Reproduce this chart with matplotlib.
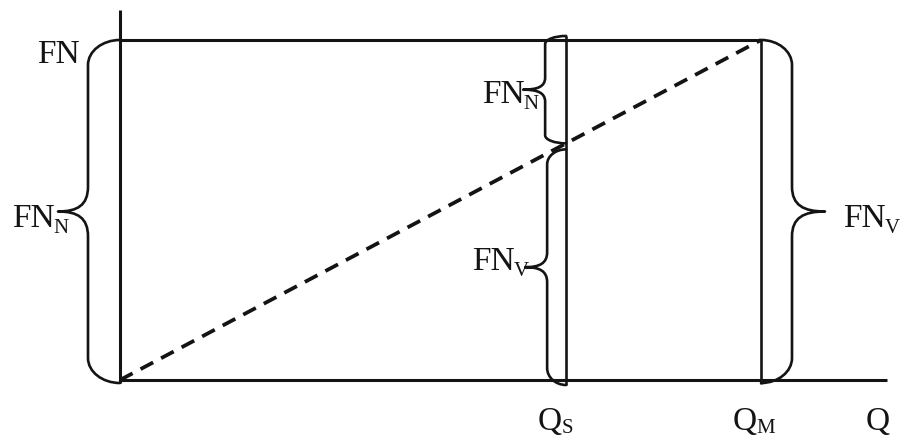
import matplotlib
matplotlib.use("Agg")
import matplotlib.pyplot as plt
from matplotlib.path import Path
from matplotlib.patches import PathPatch

plt.rcParams['font.family'] = ['Liberation Serif', 'DejaVu Serif']

# ---- diagram values (data units) ----
Q_S = 0.696          # quantity at point S
Q_M = 1.0            # quantity at point M
Q_MAX = 1.197        # end of Q axis
FN = 1.0             # total fixed cost level
Y_TOP = 1.088        # top of vertical axis

# labels: (main text, subscript)
label_FN = ("FN", "")
label_FNN = ("FN", "N")
label_FNV = ("FN", "V")
q_labels = [("Q", "S"), ("Q", "M"), ("Q", "")]

W, H = 921, 441
fig = plt.figure(figsize=(W / 100, H / 100), dpi=100)
ax = fig.add_axes([0, 0, 1, 1])
XL = (-0.1872, 1.2496)
YL = (-0.1794, 1.1176)
ax.set_xlim(*XL)
ax.set_ylim(*YL)
ax.axis('off')

px = (XL[1] - XL[0]) / W   # data per pixel (x)
py = (YL[1] - YL[0]) / H   # data per pixel (y)

ink = '#141414'
lw_axis = 2.2
lw_brace = 1.9

# axes and lines
ax.plot([0, 0], [0 - 3 * py, Y_TOP], color=ink, lw=lw_axis, solid_capstyle='butt')
ax.plot([0, Q_MAX], [0, 0], color=ink, lw=lw_axis, solid_capstyle='butt')
ax.plot([0, Q_M], [FN, FN], color=ink, lw=lw_axis, solid_capstyle='butt')
ax.plot([Q_S, Q_S], [-5 * py, FN + 4 * py], color=ink, lw=lw_brace, solid_capstyle='butt')
ax.plot([Q_M, Q_M], [-4 * py, FN], color=ink, lw=lw_brace, solid_capstyle='butt')
# dashed proportional line
ax.plot([0, Q_M], [0, FN], color=ink, lw=2.7, linestyle=(0, (3.8, 2.4)), dash_capstyle='butt')

K = 0.5523


def brace(xa, ylo, yhi, s, d1, d2, ryt, ryb, rt):
    d1x, d2x = d1 * px, d2 * px
    ryt, ryb, rt = ryt * py, ryb * py, rt * py
    xv = xa + s * d1x
    xt = xa + s * d2x
    yt = (ylo + yhi) / 2
    verts = [
        (xa, yhi),
        (xa + s * K * d1x, yhi), (xv, yhi - ryt + K * ryt), (xv, yhi - ryt),
        (xv, yt + rt),
        (xv, yt + rt * 0.25), (xv + s * (d2x - d1x) * 0.35, yt), (xt, yt),
        (xv + s * (d2x - d1x) * 0.35, yt), (xv, yt - rt * 0.25), (xv, yt - rt),
        (xv, ylo + ryb),
        (xv, ylo + ryb - K * ryb), (xa + s * K * d1x, ylo), (xa, ylo),
    ]
    codes = [Path.MOVETO,
             Path.CURVE4, Path.CURVE4, Path.CURVE4,
             Path.LINETO,
             Path.CURVE4, Path.CURVE4, Path.CURVE4,
             Path.CURVE4, Path.CURVE4, Path.CURVE4,
             Path.LINETO,
             Path.CURVE4, Path.CURVE4, Path.CURVE4]
    ax.add_patch(PathPatch(Path(verts, codes), fill=False, edgecolor=ink,
                           lw=lw_brace, capstyle='round', joinstyle='round'))


y_cross = FN * Q_S / Q_M
brace(0, -3 * py, FN, -1, 32, 62, 25, 25, 25)
brace(Q_M, -3 * py, FN, +1, 31, 64, 25, 25, 25)
brace(Q_S, y_cross, FN + 4 * py, -1, 21, 43, 8, 8, 12)
brace(Q_S, -5 * py, y_cross - 6 * py, -1, 19, 41, 15, 17, 15)


def P(xp, yp):
    return XL[0] + xp * px, YL[1] - yp * py


fs, fs_sub = 24, 15
renderer = fig.canvas.get_renderer()


def label(xp, yp, lab, drop=6):
    main, sub = lab
    t = ax.text(*P(xp, yp), main, fontsize=fs, ha='left', va='baseline', color=ink)
    if sub:
        bb = t.get_window_extent(renderer=renderer)
        xr = bb.x1 / fig.dpi * 100  # pixel from left
        ax.text(*P(xr - 1, yp + drop), sub, fontsize=fs_sub, ha='left', va='baseline', color=ink)


label(37, 63, label_FN)
label(12, 227, label_FNN)
label(482, 103, label_FNN)
label(472, 270, label_FNV)
label(843, 227, label_FNV)
for xp, lab in zip([538, 733, 866], q_labels):
    label(xp, 430, lab, drop=3)

fig.savefig('out.png', dpi=100)
